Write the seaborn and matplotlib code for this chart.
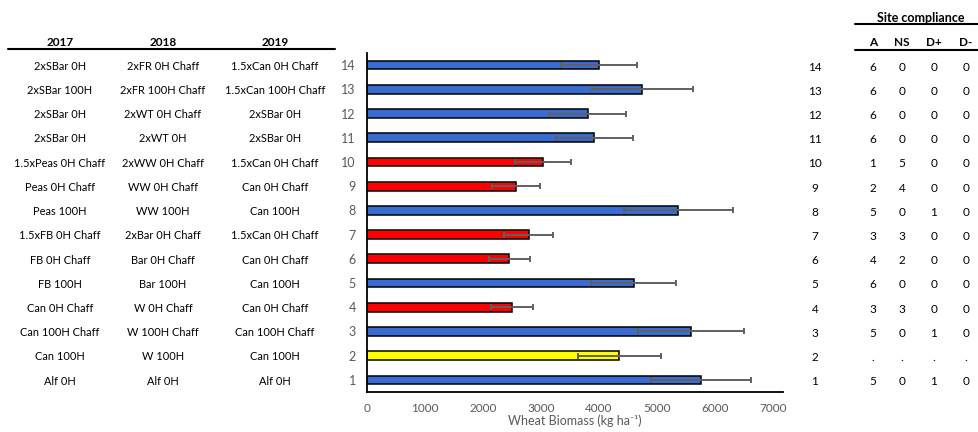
import matplotlib
matplotlib.use("Agg")
import matplotlib.pyplot as plt
import matplotlib.transforms as mtransforms
from matplotlib.lines import Line2D
import pandas as pd
import seaborn as sns

# Treatment numbers (bottom to top) and wheat biomass means with error
treatments = ["1", "2", "3", "4", "5", "6", "7", "8", "9", "10", "11", "12", "13", "14"]
biomass = [5760, 4350, 5585, 2500, 4600, 2455, 2790, 5365, 2575, 3035, 3920, 3805, 4745, 4005]
biomass_err = [865, 712, 917, 368, 735, 350, 420, 937, 412, 480, 658, 660, 868, 654]
bar_colors = ["#3A6BD0", "#FFFF00", "#3A6BD0", "#FF0000", "#3A6BD0", "#FF0000", "#FF0000",
              "#3A6BD0", "#FF0000", "#FF0000", "#3A6BD0", "#3A6BD0", "#3A6BD0", "#3A6BD0"]

# Rotation history per treatment
rot_2017 = ["Alf 0H", "Can 100H", "Can 100H Chaff", "Can 0H Chaff", "FB 100H", "FB 0H Chaff",
            "1.5xFB 0H Chaff", "Peas 100H", "Peas 0H Chaff", "1.5xPeas 0H Chaff", "2xSBar 0H",
            "2xSBar 0H", "2xSBar 100H", "2xSBar 0H"]
rot_2018 = ["Alf 0H", "W 100H", "W 100H Chaff", "W 0H Chaff", "Bar 100H", "Bar 0H Chaff",
            "2xBar 0H Chaff", "WW 100H", "WW 0H Chaff", "2xWW 0H Chaff", "2xWT 0H",
            "2xWT 0H Chaff", "2xFR 100H Chaff", "2xFR 0H Chaff"]
rot_2019 = ["Alf 0H", "Can 100H", "Can 100H Chaff", "Can 0H Chaff", "Can 100H", "Can 0H Chaff",
            "1.5xCan 0H Chaff", "Can 100H", "Can 0H Chaff", "1.5xCan 0H Chaff", "2xSBar 0H",
            "2xSBar 0H", "1.5xCan 100H Chaff", "1.5xCan 0H Chaff"]

# Site compliance counts
comp_A = ["5", ".", "5", "3", "6", "4", "3", "5", "2", "1", "6", "6", "6", "6"]
comp_NS = ["0", ".", "0", "3", "0", "2", "3", "0", "4", "5", "0", "0", "0", "0"]
comp_Dp = ["1", ".", "1", "0", "0", "0", "0", "1", "0", "0", "0", "0", "0", "0"]
comp_Dm = ["0", ".", "0", "0", "0", "0", "0", "0", "0", "0", "0", "0", "0", "0"]

sns.set_theme(style="white")
plt.rcParams["font.family"] = ["Lato", "DejaVu Sans"]

W, H = 979, 432
fig = plt.figure(figsize=(W / 100, H / 100), dpi=100)
ax = fig.add_axes([367 / W, 1 - 392 / H, 416 / W, 339 / H])

df = pd.DataFrame({"Treatment": treatments, "Biomass": biomass, "Err": biomass_err})
order = treatments[::-1]
palette = dict(zip(treatments, bar_colors))

sns.barplot(data=df, x="Biomass", y="Treatment", hue="Treatment", order=order,
            hue_order=order, palette=palette, legend=False, width=0.36,
            edgecolor="black", linewidth=1.1, errorbar=None, orient="h",
            saturation=1, ax=ax)

ypos = [order.index(t) for t in treatments]
ax.errorbar(df["Biomass"], ypos, xerr=df["Err"], fmt="none", ecolor="#606060",
            elinewidth=1.4, capsize=2.2, capthick=1.4, zorder=5)

ax.set_xlim(0, 7172)
ax.set_ylim(13.5, -0.5)
ax.set_xticks(range(0, 7001, 1000))
ax.set_xlabel("Wheat Biomass (kg ha\u207b\u00b9)", color="#595959", fontsize=9, labelpad=0)
ax.set_ylabel("")
ax.tick_params(axis="both", length=0, colors="#595959", labelsize=8.5)
ax.tick_params(axis="y", labelsize=9, pad=8)
ax.tick_params(axis="x", pad=8)
for side in ["top", "right"]:
    ax.spines[side].set_visible(False)
for side in ["left", "bottom"]:
    ax.spines[side].set_color("black")
    ax.spines[side].set_linewidth(1.3)

# Rotation table on the left
tr = mtransforms.blended_transform_factory(fig.transFigure, ax.transData)
col_x = [60, 163, 275]
for cx, year, col in zip(col_x, ["2017", "2018", "2019"], [rot_2017, rot_2018, rot_2019]):
    fig.text(cx / W, 1 - 42 / H, year, ha="center", va="center", fontsize=8.5,
             fontweight="bold", color="black")
    for y, label in zip(ypos, col):
        ax.text(cx / W, y + 0.05, label, transform=tr, ha="center", va="center",
                fontsize=7.9, color="black", clip_on=False)
fig.add_artist(Line2D([8 / W, 335 / W], [1 - 49 / H, 1 - 49 / H],
                      transform=fig.transFigure, color="black", lw=1.5))

# Site compliance table on the right
fig.text(921 / W, 1 - 18 / H, "Site compliance", ha="center", va="center",
         fontsize=9, fontweight="bold", color="black")
comp_cols = [(873, "A", comp_A), (902, "NS", comp_NS), (934, "D+", comp_Dp), (966, "D-", comp_Dm)]
for cx, head, vals in comp_cols:
    fig.text(cx / W, 1 - 42 / H, head, ha="center", va="center", fontsize=8.5,
             fontweight="bold", color="black")
    for y, v in zip(ypos, vals):
        ax.text(cx / W, y + 0.08, v, transform=tr, ha="center", va="center",
                fontsize=8.5, color="black", clip_on=False)
for y, t in zip(ypos, treatments):
    ax.text(815 / W, y + 0.08, t, transform=tr, ha="center", va="center",
            fontsize=8.5, color="black", clip_on=False)
for ly in [24, 50]:
    fig.add_artist(Line2D([855 / W, 979 / W], [1 - ly / H, 1 - ly / H],
                          transform=fig.transFigure, color="black", lw=1.5))

fig.savefig("out.png", dpi=100)
